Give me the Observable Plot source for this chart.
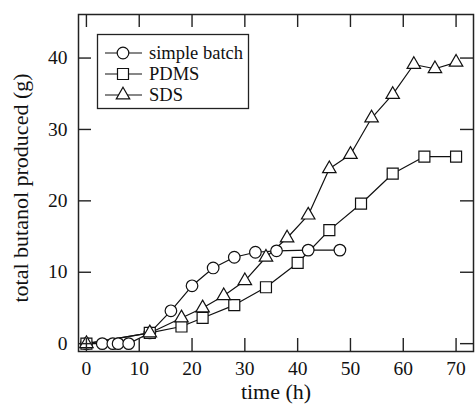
<!DOCTYPE html>
<html><head><meta charset="utf-8">
<script src="https://cdn.jsdelivr.net/npm/d3@7"></script>
<script src="https://cdn.jsdelivr.net/npm/@observablehq/plot@0.6"></script>
<style>body{margin:0;background:#fff}#chart svg{display:block}</style>
</head><body><div id="chart"></div>
<script>
const seriesNames = ["simple batch", "PDMS", "SDS"];
const seriesSymbols = ["circle", "square", "triangle"];
const seriesR = [5.8, 6.2, 5.0];

const timeSB = [0, 3, 5, 6, 8, 12, 16, 20, 24, 28, 32, 36, 42, 48];
const butanolSB = [0, 0, 0, 0, 0, 1.5, 4.6, 8.1, 10.6, 12.1, 12.8, 13.0, 13.1, 13.1];
const timePDMS = [0, 12, 18, 22, 28, 34, 40, 46, 52, 58, 64, 70];
const butanolPDMS = [0, 1.5, 2.4, 3.6, 5.4, 7.9, 11.3, 15.9, 19.6, 23.8, 26.2, 26.2];
const timeSDS = [0, 12, 18, 22, 26, 30, 34, 38, 42, 46, 50, 54, 58, 62, 66, 70];
const butanolSDS = [0, 1.5, 3.6, 5.0, 6.7, 8.8, 12.1, 14.8, 18.0, 24.5, 26.5, 31.6, 34.9, 39.1, 38.5, 39.4];

const xTicks = [0, 10, 20, 30, 40, 50, 60, 70];
const yTicks = [0, 10, 20, 30, 40];
const xLabel = "time (h)";
const yLabel = "total butanol produced (g)";

const W = 475, H = 410;
const mt = 14, mb = 59, ml = 78, mr = 2;
const innerH = H - mt - mb, innerW = W - ml - mr;
const tk = 13;
const font = "Liberation Serif";

const series = [
  timeSB.map((t, i) => ({t, v: butanolSB[i]})),
  timePDMS.map((t, i) => ({t, v: butanolPDMS[i]})),
  timeSDS.map((t, i) => ({t, v: butanolSDS[i]}))
];

const marks = [];
series.forEach((d) => marks.push(Plot.line(d, {x: "t", y: "v", stroke: "#111", strokeWidth: 1.2})));
series.forEach((d, k) => marks.push(Plot.dot(d, {x: "t", y: "v", symbol: seriesSymbols[k], r: seriesR[k], fill: "white", stroke: "#111", strokeWidth: 1.2})));

const plot = Plot.plot({
  width: W, height: H,
  marginTop: mt, marginBottom: mb, marginLeft: ml, marginRight: mr,
  style: {fontFamily: font, background: "white", color: "#111"},
  x: {domain: [-1.5, 73.3]},
  y: {domain: [-1.1, 46.1]},
  marks: [
    ...marks,
    Plot.tickX(xTicks, {x: d => d, insetTop: innerH - tk, stroke: "#222", strokeWidth: 1.4}),
    Plot.tickX(xTicks, {x: d => d, insetBottom: innerH - tk, stroke: "#222", strokeWidth: 1.4}),
    Plot.tickY(yTicks, {y: d => d, insetRight: innerW - tk, stroke: "#222", strokeWidth: 1.4}),
    Plot.tickY(yTicks, {y: d => d, insetLeft: innerW - tk, stroke: "#222", strokeWidth: 1.4}),
    Plot.axisX(xTicks, {tickSize: 0, tickPadding: 10, fontSize: 19.5, fontFamily: font, label: null}),
    Plot.axisY(yTicks, {tickSize: 0, tickPadding: 11, fontSize: 19.5, fontFamily: font, label: null}),
    Plot.text([xLabel], {text: d => d, frameAnchor: "bottom", textAnchor: "middle", dy: 47, fontSize: 22, fontFamily: font}),
    Plot.text([yLabel], {text: d => d, frameAnchor: "left", textAnchor: "middle", rotate: -90, dx: -58, dy: 5, fontSize: 22, fontFamily: font}),
    Plot.frame({stroke: "#222", strokeWidth: 1.5})
  ]
});

// legend
const svg = d3.select(plot);
const lg = svg.append("g").attr("font-family", font).attr("font-size", 18.5).attr("fill", "#111").attr("text-anchor", "start");
lg.append("rect").attr("x", 97.5).attr("y", 34.5).attr("width", 151).attr("height", 74)
  .attr("fill", "white").attr("stroke", "#222").attr("stroke-width", 1.3);
const symMap = {circle: d3.symbolCircle, square: d3.symbolSquare, triangle: d3.symbolTriangle};
seriesNames.forEach((name, k) => {
  const cy = 53 + k * 21;
  lg.append("line").attr("x1", 105).attr("x2", 142).attr("y1", cy).attr("y2", cy)
    .attr("stroke", "#111").attr("stroke-width", 1.2);
  lg.append("path").attr("transform", `translate(123,${cy})`)
    .attr("d", d3.symbol(symMap[seriesSymbols[k]], Math.PI * seriesR[k] ** 2)())
    .attr("fill", "white").attr("stroke", "#111").attr("stroke-width", 1.2);
  lg.append("text").attr("x", 149).attr("y", cy).attr("dy", "0.32em").attr("font-family", font).text(name);
});

document.getElementById("chart").appendChild(plot);
</script>
</body></html>
